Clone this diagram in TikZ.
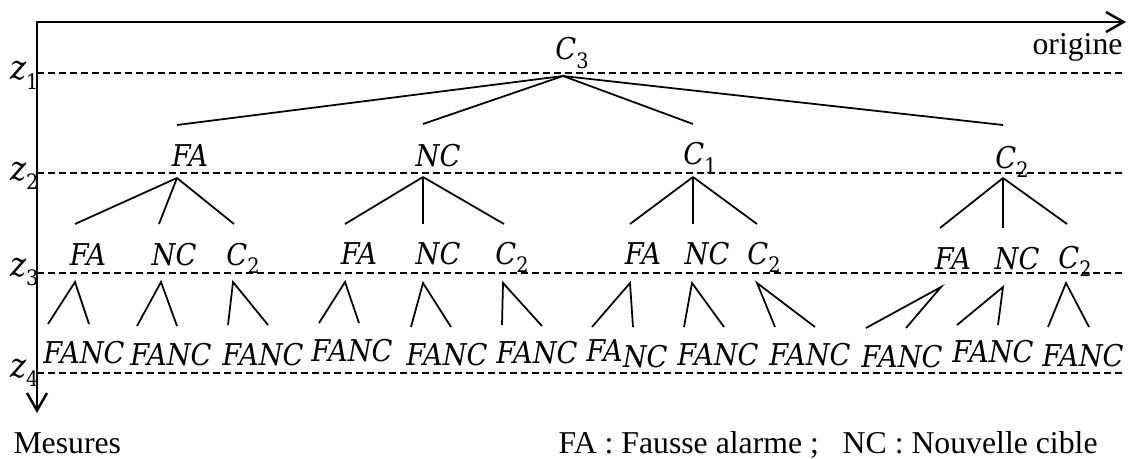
\documentclass[tikz,border=0pt]{standalone}
\usepackage{fontspec}
\setmainfont{Liberation Serif}
\newfontfamily\mfont[FakeStretch=0.91]{DejaVu Serif}
\newcommand{\sbs}[1]{\raisebox{-0.28em}{\fontsize{8.5}{9}\selectfont\upshape #1}}
\usetikzlibrary{arrows.meta}
\begin{document}
\begin{tikzpicture}[x=0.4pt,y=-0.4pt,
  axis/.style={line width=1pt,{Straight Barb[length=7pt,width=8pt,line width=1pt]}-{Straight Barb[length=7pt,width=8pt,line width=1pt]}},
  levelline/.style={line width=0.6pt,dash pattern=on 2.8pt off 1.6pt},
  branch/.style={line width=0.7pt},
  lbl/.style={anchor=base,inner sep=0pt,font=\mfont\itshape\fontsize{12}{14}\selectfont},
  txt/.style={inner sep=0pt,font=\fontsize{12.7}{15}\selectfont},
  zl/.style={anchor=base east,inner sep=0pt,font=\mfont\itshape\fontsize{13.5}{15}\selectfont}]
\useasboundingbox (0,0) rectangle (1132,459);

% axes
\coordinate (O) at (37,22);
\coordinate (X) at (1126,22);
\coordinate (Y) at (37,413);
\draw[axis] (Y) -- (O) -- (X);

% level lines
\foreach \k/\y in {1/73,2/173,3/273,4/373}{
  \coordinate (zl\k) at (37,\y);
  \coordinate (zr\k) at (1123,\y);
  \draw[levelline] (zl\k) -- (zr\k);
}
\node[zl] (z1) at (39,80) {z\sbs{1}};
\node[zl] (z2) at (39,180) {z\sbs{2}};
\node[zl] (z3) at (39,276) {z\sbs{3}};
\node[zl] (z4) at (39,377) {z\sbs{4}};

% level 1 branches
\coordinate (r) at (563,76);
\coordinate (r1) at (177,125);
\coordinate (r2) at (423,124);
\coordinate (r3) at (693,124);
\coordinate (r4) at (1003,125);
\foreach \i in {1,2,3,4}{\draw[branch] (r) -- (r\i);}

% level 2 branches
\foreach \i/\ax/\ay/\lx/\ly/\mx/\my/\rx/\ry in {
  1/177/178/75/224/159/224/234/224,
  2/423/177/345/224/423/224/504/224,
  3/693/177/630/224/693/224/757/224,
  4/1003/178/940/228/1003/228/1067/224}{
  \coordinate (p\i) at (\ax,\ay);
  \coordinate (p\i a) at (\lx,\ly);
  \coordinate (p\i b) at (\mx,\my);
  \coordinate (p\i c) at (\rx,\ry);
  \draw[branch] (p\i) -- (p\i a);
  \draw[branch] (p\i) -- (p\i b);
  \draw[branch] (p\i) -- (p\i c);
}

% level 3 branches
\foreach \i/\ax/\ay/\lx/\ly/\rx/\ry in {
  1/75/282/48/324/89/324,
  2/161/282/137/326/177/326,
  3/233/282/228/325/268/325,
  4/345/282/319/323/359/323,
  5/423/283/411/327/451/327,
  6/503/283/502/325/542/326,
  7/630/283/592/327/633/327,
  8/692/283/684/327/724/327,
  9/757/283/775/327/815/327,
  10/941/287/866/328/906/328,
  11/1003/287/957/325/998/325,
  12/1066/283/1048/327/1089/327}{
  \coordinate (q\i) at (\ax,\ay);
  \coordinate (q\i l) at (\lx,\ly);
  \coordinate (q\i r) at (\rx,\ry);
  \draw[branch] (q\i l) -- (q\i) -- (q\i r);
}

% labels
\node[lbl] (c3) at (572,60) {C\sbs{3}};
\node[lbl] (n1) at (190,167) {FA};
\node[lbl] (n2) at (438,167) {NC};
\node[lbl] (n3) at (700,165) {C\sbs{1}};
\node[lbl] (n4) at (1012,169) {C\sbs{2}};

\node[lbl] (m11) at (88,265) {FA};
\node[lbl] (m12) at (174,265) {NC};
\node[lbl] (m13) at (243,265) {C\sbs{2}};
\node[lbl] (m21) at (359,264) {FA};
\node[lbl] (m22) at (438,264) {NC};
\node[lbl] (m23) at (512,264) {C\sbs{2}};
\node[lbl] (m31) at (643,264) {FA};
\node[lbl] (m32) at (707,264) {NC};
\node[lbl] (m33) at (764,264) {C\sbs{2}};
\node[lbl] (m41) at (953,269) {FA};
\node[lbl] (m42) at (1017,269) {NC};
\node[lbl] (m43) at (1075,268) {C\sbs{2}};

\foreach \i/\x/\y in {1/84/363,2/171/365,3/263/365,4/352/361,5/447/365,6/537/363,
  8/718/365,9/810/365,10/902/367,11/993/362,12/1083/366}{
  \node[lbl] (f\i) at (\x,\y) {FANC};
}
\node[lbl] (f7) at (627,361) {FA\raisebox{-2.4pt}{NC}};

% texts
\node[txt,anchor=base east] (orig) at (1123,55) {origine};
\node[txt,anchor=base west] (mes) at (13,453) {Mesures};
\node[txt,anchor=base west] (leg) at (558,453) {FA : Fausse alarme ;\ \ \ NC : Nouvelle cible};
\end{tikzpicture}
\end{document}
